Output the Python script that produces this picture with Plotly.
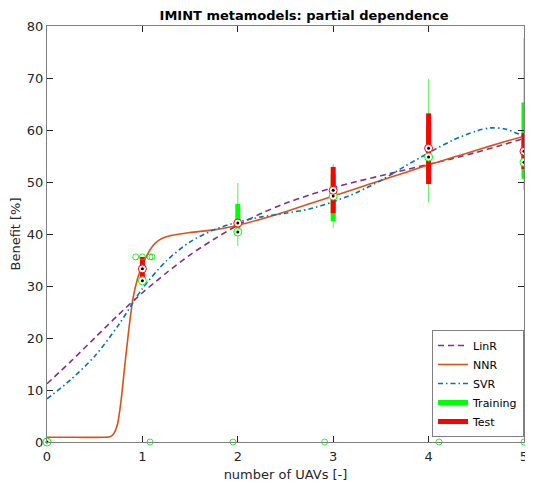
import plotly.graph_objects as go

# ---------------- data ----------------
linr_x = [0, 0.25, 0.5, 0.75, 1.0, 1.25, 1.5, 1.75, 2.0, 2.25, 2.5, 2.75, 3.0, 3.25, 3.5, 3.75, 4.0, 4.25, 4.5, 4.75, 5.0]
linr_y = [11.2, 15.5, 20.0, 24.5, 28.7, 32.5, 36.0, 39.0, 41.7, 44.0, 45.9, 47.5, 48.9, 50.1, 51.2, 52.3, 53.4, 54.5, 55.7, 57.0, 58.4]

nnr_x = [0, 0.3, 0.6, 0.66, 0.70, 0.74, 0.78, 0.82, 0.86, 0.90, 0.95, 1.0, 1.05, 1.1, 1.15, 1.2, 1.3, 1.5, 1.75,
         2.0, 2.25, 2.5, 2.75, 3.0, 3.25, 3.5, 3.75, 4.0, 4.25, 4.5, 4.75, 5.0]
nnr_y = [0.9, 0.9, 0.9, 1.0, 1.6, 3.5, 8.5, 15.5, 22.0, 27.5, 31.5, 34.0, 36.0, 37.5, 38.5, 39.1, 39.7, 40.3, 40.8,
         41.7, 42.9, 44.3, 45.8, 47.3, 48.8, 50.3, 51.8, 53.3, 54.7, 56.1, 57.5, 58.8]

svr_x = [0, 0.25, 0.5, 0.75, 1.0, 1.25, 1.5, 1.75, 2.0, 2.25, 2.5, 2.75, 3.0, 3.25, 3.5, 3.75, 4.0, 4.25, 4.5, 4.65, 4.8, 5.0]
svr_y = [8.3, 12.0, 16.5, 22.5, 29.5, 34.8, 38.5, 40.8, 42.3, 43.3, 44.0, 44.8, 46.2, 48.0, 50.3, 53.0, 55.6, 58.0, 59.8, 60.4, 60.2, 58.8]

# Training (green) box statistics per number of UAVs
train_x = [0, 1, 2, 3, 4, 5]
train_lo = [0, 30.9, 37.7, 41.2, 46.0, 48.4]
train_q1 = [0, 30.9, 40.2, 42.5, 50.5, 50.6]
train_med = [0, 31.0, 40.4, 47.3, 54.8, 53.8]
train_q3 = [0, 31.7, 45.8, 51.5, 61.0, 65.3]
train_hi = [0, 31.7, 49.8, 53.4, 69.8, 77.8]

# Test (red) box statistics
test_x = [1, 2, 3, 4, 5]
test_q1 = [31.0, 41.5, 44.0, 49.6, 52.5]
test_med = [33.3, 42.1, 48.4, 56.5, 55.9]
test_q3 = [35.6, 42.9, 52.9, 63.2, 59.4]

# Training outliers (jittered)
out_x = [0.93, 1.0, 1.08, 1.10, 1.08, 1.95, 2.91, 4.11, 5.0]
out_y = [35.6, 35.6, 35.6, 35.6, 0, 0, 0, 0, 0]

x_ticks = [0, 1, 2, 3, 4, 5]
y_ticks = [0, 10, 20, 30, 40, 50, 60, 70, 80]

PURPLE = "#7E2F8E"
ORANGE = "#D95319"
BLUE = "#0072BD"
GREEN = "#00FF00"
RED = "#FF0000"


def segments(xs, lo, hi):
    sx, sy = [], []
    for x, a, b in zip(xs, lo, hi):
        sx += [x, x, None]
        sy += [a, b, None]
    return sx, sy


fig = go.Figure()

fig.add_trace(go.Scatter(x=linr_x, y=linr_y, name="LinR", mode="lines",
                         line=dict(color=PURPLE, width=1.6, dash="6px,4px", shape="spline", smoothing=0.8)))
fig.add_trace(go.Scatter(x=nnr_x, y=nnr_y, name="NNR", mode="lines",
                         line=dict(color=ORANGE, width=1.6, shape="spline", smoothing=0.5)))
fig.add_trace(go.Scatter(x=svr_x, y=svr_y, name="SVR", mode="lines",
                         line=dict(color=BLUE, width=1.6, dash="5px,3px,1.5px,3px", shape="spline", smoothing=0.8)))

# training whiskers
wx, wy = segments(train_x, train_lo, train_hi)
fig.add_trace(go.Scatter(x=wx, y=wy, mode="lines", showlegend=False, hoverinfo="skip", cliponaxis=False,
                         line=dict(color="rgba(0,230,0,0.55)", width=1.2)))
# training boxes
bx, by = segments(train_x, train_q1, train_q3)
fig.add_trace(go.Scatter(x=bx, y=by, mode="lines", name="Training", cliponaxis=False,
                         line=dict(color=GREEN, width=5)))
# test boxes
tx, ty = segments(test_x, test_q1, test_q3)
fig.add_trace(go.Scatter(x=tx, y=ty, mode="lines", name="Test", cliponaxis=False,
                         line=dict(color=RED, width=5)))

# outliers
fig.add_trace(go.Scatter(x=out_x, y=out_y, mode="markers", showlegend=False, cliponaxis=False,
                         marker=dict(symbol="circle-open", size=6, color="rgba(0,230,0,0.8)", line=dict(width=1))))

# medians training
fig.add_trace(go.Scatter(x=train_x, y=train_med, mode="markers", showlegend=False, cliponaxis=False,
                         marker=dict(symbol="circle", size=8, color="white", line=dict(color=GREEN, width=1))))
fig.add_trace(go.Scatter(x=train_x, y=train_med, mode="markers", showlegend=False, cliponaxis=False,
                         marker=dict(symbol="circle", size=3, color="black")))
# medians test
fig.add_trace(go.Scatter(x=test_x, y=test_med, mode="markers", showlegend=False, cliponaxis=False,
                         marker=dict(symbol="circle", size=8, color="white", line=dict(color=RED, width=1))))
fig.add_trace(go.Scatter(x=test_x, y=test_med, mode="markers", showlegend=False, cliponaxis=False,
                         marker=dict(symbol="circle", size=3, color="black")))

axis_common = dict(showgrid=False, zeroline=False, showline=True, linecolor="#7f7f7f", linewidth=1.3,
                   mirror="ticks", ticks="inside", ticklen=6, tickcolor="#262626", tickwidth=1,
                   automargin=False, ticklabeloverflow="allow",
                   tickfont=dict(family="DejaVu Sans", size=13, color="#262626"))

# the page body has an 8px margin, so the figure is sized to fit the 533x484 window
fig.update_layout(
    width=525, height=476,
    margin=dict(l=39, r=9, t=18, b=42),
    paper_bgcolor="white", plot_bgcolor="white",
    font=dict(family="DejaVu Sans", color="#262626"),
    title=dict(text="<b>IMINT metamodels: partial dependence</b>", x=0.564, xanchor="center",
               y=0.985, yanchor="middle", font=dict(size=13, color="black")),
    xaxis=dict(range=[0, 5.0001], tickvals=x_ticks, ticklabelstandoff=2, **axis_common,
               title=dict(text="number of UAVs [-]", font=dict(size=13), standoff=7)),
    yaxis=dict(range=[0, 80.0001], tickvals=y_ticks, **axis_common,
               title=dict(text="Benefit [%]", font=dict(size=13), standoff=3)),
    legend=dict(x=1, xanchor="right", y=0.012, yanchor="bottom", bgcolor="white",
                bordercolor="#7f7f7f", borderwidth=1, font=dict(size=11, color="black"),
                tracegroupgap=0, itemwidth=30),
)

fig.write_html("out.html")
